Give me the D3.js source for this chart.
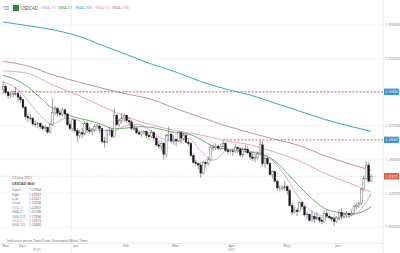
<!DOCTYPE html>
<html lang="en">
<head>
<meta charset="UTF-8" />
<title>USDCAD 1D</title>
<script src="https://d3js.org/d3.v7.min.js"></script>
<style>
  body { margin: 0; background: #fff; font-family: 'Open Sans', sans-serif; }
  svg { display: block; }
</style>
</head>
<body>
<div id="chart"></div>
<script>
// daily candles, 23 Nov 2020 .. 22 Jun 2021 (open, high, low, close)
const candles = [
  [1.3020,1.3085,1.2990,1.3045],[1.3045,1.3060,1.2985,1.3000],[1.3000,1.3010,1.2950,1.2975],[1.2975,1.3000,1.2960,1.2985],
  [1.2985,1.3010,1.2965,1.2990],[1.2990,1.3040,1.2975,1.2990],[1.2990,1.3000,1.2930,1.2965],[1.2965,1.2985,1.2920,1.2945],
  [1.2945,1.2950,1.2880,1.2890],[1.2890,1.2900,1.2800,1.2820],[1.2820,1.2840,1.2780,1.2810],[1.2810,1.2840,1.2790,1.2805],
  [1.2805,1.2815,1.2750,1.2765],[1.2765,1.2790,1.2740,1.2760],[1.2760,1.2780,1.2735,1.2770],[1.2770,1.2775,1.2725,1.2745],
  [1.2745,1.2760,1.2715,1.2730],[1.2730,1.2760,1.2710,1.2740],[1.2740,1.2745,1.2690,1.2705],[1.2705,1.2770,1.2695,1.2760],
  [1.2760,1.2955,1.2750,1.2850],[1.2850,1.2900,1.2830,1.2880],[1.2880,1.2890,1.2820,1.2845],[1.2845,1.2870,1.2820,1.2835],
  [1.2835,1.2885,1.2820,1.2870],[1.2870,1.2880,1.2810,1.2840],[1.2840,1.2845,1.2750,1.2760],[1.2760,1.2790,1.2715,1.2730],
  [1.2730,1.2805,1.2710,1.2795],[1.2795,1.2800,1.2700,1.2715],[1.2715,1.2735,1.2630,1.2680],[1.2680,1.2720,1.2655,1.2700],
  [1.2700,1.2735,1.2660,1.2690],[1.2690,1.2790,1.2680,1.2770],[1.2770,1.2785,1.2700,1.2720],[1.2720,1.2745,1.2690,1.2710],
  [1.2710,1.2735,1.2680,1.2720],[1.2720,1.2765,1.2705,1.2745],[1.2745,1.2765,1.2730,1.2750],[1.2750,1.2760,1.2695,1.2730],
  [1.2730,1.2735,1.2620,1.2635],[1.2635,1.2670,1.2590,1.2630],[1.2630,1.2725,1.2625,1.2715],[1.2715,1.2740,1.2680,1.2720],
  [1.2720,1.2735,1.2660,1.2670],[1.2670,1.2880,1.2660,1.2830],[1.2830,1.2840,1.2750,1.2760],[1.2760,1.2810,1.2740,1.2790],
  [1.2790,1.2850,1.2770,1.2810],[1.2810,1.2840,1.2780,1.2830],[1.2830,1.2835,1.2770,1.2790],[1.2790,1.2815,1.2760,1.2780],
  [1.2780,1.2795,1.2720,1.2730],[1.2730,1.2760,1.2715,1.2730],[1.2730,1.2740,1.2690,1.2700],[1.2700,1.2720,1.2680,1.2690],
  [1.2690,1.2715,1.2670,1.2705],[1.2705,1.2720,1.2685,1.2710],[1.2710,1.2715,1.2660,1.2680],[1.2680,1.2705,1.2650,1.2670],
  [1.2670,1.2720,1.2660,1.2700],[1.2700,1.2710,1.2640,1.2660],[1.2660,1.2675,1.2600,1.2610],[1.2610,1.2640,1.2580,1.2600],
  [1.2600,1.2640,1.2570,1.2620],[1.2620,1.2630,1.2500,1.2540],[1.2540,1.2690,1.2515,1.2680],[1.2680,1.2745,1.2640,1.2690],
  [1.2690,1.2700,1.2620,1.2640],[1.2640,1.2680,1.2610,1.2650],[1.2650,1.2660,1.2600,1.2640],[1.2640,1.2710,1.2630,1.2700],
  [1.2700,1.2710,1.2620,1.2660],[1.2660,1.2700,1.2640,1.2680],[1.2680,1.2690,1.2620,1.2630],[1.2630,1.2650,1.2600,1.2620],
  [1.2620,1.2630,1.2520,1.2530],[1.2530,1.2550,1.2470,1.2480],[1.2480,1.2500,1.2450,1.2470],[1.2470,1.2480,1.2430,1.2460],
  [1.2460,1.2480,1.2365,1.2400],[1.2400,1.2490,1.2390,1.2480],[1.2480,1.2490,1.2440,1.2470],[1.2470,1.2520,1.2455,1.2500],
  [1.2500,1.2610,1.2490,1.2590],[1.2590,1.2620,1.2560,1.2590],[1.2590,1.2620,1.2570,1.2600],[1.2600,1.2610,1.2570,1.2585],
  [1.2585,1.2620,1.2570,1.2600],[1.2600,1.2640,1.2590,1.2620],[1.2620,1.2630,1.2560,1.2570],[1.2570,1.2590,1.2540,1.2560],
  [1.2560,1.2575,1.2550,1.2565],[1.2565,1.2580,1.2530,1.2560],[1.2560,1.2620,1.2550,1.2590],[1.2590,1.2600,1.2550,1.2580],
  [1.2580,1.2590,1.2520,1.2535],[1.2535,1.2590,1.2520,1.2580],[1.2580,1.2610,1.2560,1.2575],[1.2575,1.2600,1.2540,1.2550],
  [1.2550,1.2560,1.2500,1.2520],[1.2520,1.2550,1.2490,1.2510],[1.2510,1.2540,1.2480,1.2515],[1.2515,1.2560,1.2500,1.2545],
  [1.2545,1.2640,1.2530,1.2610],[1.2610,1.2640,1.2450,1.2470],[1.2470,1.2530,1.2440,1.2510],[1.2510,1.2520,1.2460,1.2470],
  [1.2470,1.2480,1.2380,1.2390],[1.2390,1.2420,1.2360,1.2410],[1.2410,1.2420,1.2330,1.2340],[1.2340,1.2350,1.2270,1.2290],
  [1.2290,1.2310,1.2265,1.2290],[1.2290,1.2310,1.2270,1.2290],[1.2290,1.2340,1.2270,1.2300],[1.2300,1.2310,1.2240,1.2270],
  [1.2270,1.2280,1.2150,1.2160],[1.2160,1.2180,1.2090,1.2110],[1.2110,1.2150,1.2100,1.2125],[1.2125,1.2140,1.2080,1.2115],
  [1.2115,1.2190,1.2110,1.2180],[1.2180,1.2190,1.2130,1.2150],[1.2150,1.2160,1.2080,1.2090],[1.2090,1.2110,1.2060,1.2095],
  [1.2095,1.2100,1.2040,1.2050],[1.2050,1.2120,1.2040,1.2080],[1.2080,1.2100,1.2030,1.2060],[1.2060,1.2110,1.2050,1.2070],
  [1.2070,1.2080,1.2030,1.2050],[1.2050,1.2070,1.2020,1.2040],[1.2040,1.2120,1.2030,1.2100],[1.2100,1.2130,1.2070,1.2080],
  [1.2080,1.2100,1.2060,1.2070],[1.2070,1.2080,1.2040,1.2060],[1.2060,1.2090,1.2007,1.2040],[1.2040,1.2080,1.2030,1.2070],
  [1.2070,1.2130,1.2050,1.2110],[1.2110,1.2140,1.2060,1.2080],[1.2080,1.2110,1.2070,1.2090],[1.2090,1.2120,1.2070,1.2100],
  [1.2100,1.2110,1.2070,1.2090],[1.2090,1.2130,1.2080,1.2100],[1.2100,1.2165,1.2090,1.2150],[1.2150,1.2170,1.2130,1.2160],
  [1.2160,1.2190,1.2140,1.2175],[1.2175,1.2290,1.2160,1.2280],[1.2280,1.2380,1.2270,1.2360],[1.2360,1.2487,1.2350,1.2460],
  [1.2460,1.2480,1.2330,1.2340],[1.2336,1.2394,1.2332,1.2377]
];
const holidays = ["2020-12-25", "2021-01-01"];

// moving averages (bar index, value)
const sma10 = [[0,1.3075],[5,1.3034],[10,1.2937],[15,1.2828],[20,1.2763],[25,1.2806],[30,1.2795],[35,1.2727],
  [40,1.2717],[45,1.2715],[50,1.2755],[55,1.2761],[60,1.2710],[65,1.2650],[70,1.2633],[75,1.2659],[80,1.2563],
  [85,1.2497],[90,1.2561],[95,1.2583],[100,1.2562],[105,1.2541],[110,1.2477],[115,1.2356],[120,1.2213],[125,1.2116],
  [130,1.2079],[135,1.2064],[140,1.2079],[145,1.2134],[149,1.2249]];
const sma21 = [[0,1.3125],[5,1.3095],[10,1.3040],[15,1.2960],[20,1.2880],[25,1.2840],[30,1.2810],[35,1.2790],
  [40,1.2760],[45,1.2730],[50,1.2735],[55,1.2745],[60,1.2740],[65,1.2720],[70,1.2700],[75,1.2690],[80,1.2650],
  [85,1.2600],[90,1.2580],[95,1.2565],[100,1.2555],[105,1.2540],[110,1.2490],[115,1.2400],[120,1.2300],[125,1.2210],
  [130,1.2140],[135,1.2110],[140,1.2095],[145,1.2110],[149,1.2150]];
const sma55 = [[0,1.3160],[10,1.3140],[20,1.3055],[30,1.2981],[40,1.2897],[50,1.2817],[60,1.2759],[70,1.2716],
  [80,1.2683],[90,1.2641],[100,1.2610],[110,1.2555],[120,1.2490],[130,1.2400],[140,1.2327],[149,1.2260]];
const sma100 = [[0,1.3230],[10,1.3195],[20,1.3130],[30,1.3080],[40,1.3031],[50,1.2988],[60,1.2948],[70,1.2878],
  [80,1.2815],[90,1.2753],[100,1.2700],[110,1.2651],[120,1.2604],[130,1.2531],[140,1.2470],[149,1.2420]];
const sma200 = [[0,1.3522],[10,1.3495],[20,1.3465],[30,1.3420],[40,1.3350],[50,1.3280],[60,1.3210],[70,1.3150],
  [80,1.3080],[90,1.3025],[100,1.2980],[110,1.2920],[120,1.2860],[130,1.2800],[140,1.2750],[149,1.2710]];

const yTicks = [1.20, 1.225, 1.25, 1.275, 1.30, 1.325, 1.35];
const levels = [
  { value: 1.3004, from: 0, label: "1.3004" },
  { value: 1.2647, from: 89, label: "1.2647" }
];
const lastPrice = 1.2377;

const legendRows = [
  ["Open", "1.23364"], ["High", "1.23937"], ["Low", "1.23321"], ["Close", "1.23768"],
  ["SMA 10", "1.22807"], ["SMA 21", "1.21036"], ["SMA 200", "1.27856"], ["SMA 55", "1.22973"], ["SMA 100", "1.23880"]
];
const smaNames = ["SMA 10", "SMA 21", "SMA 200", "SMA 55", "SMA 100"];
const colors = {
  "SMA 10": "#c792d8", "SMA 21": "#3e9a48", "SMA 200": "#35a7c4",
  "SMA 55": "#e08cb4", "SMA 100": "#b8709a"
};

const width = 400, height = 253;
const plotRight = 383, axisY = 243.5;

// trading calendar: weekdays minus holidays
const parse = d3.utcParse("%Y-%m-%d"), fmt = d3.utcFormat("%Y-%m-%d");
const dates = d3.utcDays(parse("2020-11-23"), parse("2021-06-23"))
  .filter(d => d.getUTCDay() % 6 !== 0 && !holidays.includes(fmt(d)));

const x = d3.scaleLinear().domain([0, candles.length - 1]).range([3.2, 371.2]);
const y = d3.scaleLinear().domain([1.20, 1.35]).range([227, 25]);

const svg = d3.select("#chart").append("svg")
  .attr("width", width).attr("height", height)
  .style("font-family", "'Open Sans', sans-serif");

// grid
svg.append("g").selectAll("line").data(yTicks).join("line")
  .attr("x1", 0).attr("x2", plotRight)
  .attr("y1", d => y(d)).attr("y2", d => y(d))
  .attr("stroke", "#f0f0f0").attr("stroke-width", 0.6);

const yearStart = dates.findIndex(d => d.getUTCFullYear() === 2021);
const sepX = (x(yearStart - 1) + x(yearStart)) / 2;
svg.append("line").attr("x1", sepX).attr("x2", sepX).attr("y1", 0).attr("y2", height)
  .attr("stroke", "#e6e6e6").attr("stroke-width", 0.7);

svg.append("line").attr("x1", plotRight).attr("x2", plotRight).attr("y1", 0).attr("y2", height)
  .attr("stroke", "#e3e3e3").attr("stroke-width", 0.7);
svg.append("line").attr("x1", 0).attr("x2", plotRight).attr("y1", axisY).attr("y2", axisY)
  .attr("stroke", "#e3e3e3").attr("stroke-width", 0.7);

// horizontal levels
for (const lv of levels) {
  svg.append("line")
    .attr("x1", x(lv.from)).attr("x2", plotRight)
    .attr("y1", y(lv.value)).attr("y2", y(lv.value))
    .attr("stroke", "#c9453f").attr("stroke-width", 0.8)
    .attr("stroke-dasharray", "2,1.6");
}
svg.append("line")
  .attr("x1", 0).attr("x2", plotRight)
  .attr("y1", y(lastPrice)).attr("y2", y(lastPrice))
  .attr("stroke", "#bbb").attr("stroke-width", 0.5)
  .attr("stroke-dasharray", "1.5,1.5");

// moving averages
const line = d3.line().x(d => x(d[0])).y(d => y(d[1])).curve(d3.curveMonotoneX);
const smaData = { "SMA 10": sma10, "SMA 21": sma21, "SMA 200": sma200, "SMA 55": sma55, "SMA 100": sma100 };
for (const name of ["SMA 200", "SMA 100", "SMA 55", "SMA 21", "SMA 10"]) {
  svg.append("path").datum(smaData[name])
    .attr("fill", "none").attr("stroke", colors[name])
    .attr("stroke-width", name === "SMA 200" ? 1 : 0.8)
    .attr("d", line);
}

// candles
const cg = svg.append("g").selectAll("g").data(candles).join("g");
cg.append("line")
  .attr("x1", (d, i) => x(i)).attr("x2", (d, i) => x(i))
  .attr("y1", d => y(d[1])).attr("y2", d => y(d[2]))
  .attr("stroke", "#444").attr("stroke-width", 0.55);
cg.append("rect")
  .attr("x", (d, i) => x(i) - 0.9).attr("width", 1.8)
  .attr("y", d => y(Math.max(d[0], d[3])))
  .attr("height", d => Math.max(0.4, Math.abs(y(d[0]) - y(d[3]))))
  .attr("fill", d => d[3] >= d[0] ? "#fff" : "#1a1a1a")
  .attr("stroke", d => d[3] >= d[0] ? "#555" : "#1a1a1a")
  .attr("stroke-width", 0.4);

// right axis labels
svg.append("g").selectAll("text")
  .data(yTicks.filter(t => Math.abs(y(t) - y(levels[0].value)) > 5))
  .join("text")
  .attr("x", 385.5).attr("y", d => y(d)).attr("dy", "0.35em")
  .attr("font-size", 3.9).attr("fill", "#777")
  .text(d => d3.format(".5f")(d));

function priceTag(v, label, bg) {
  const g = svg.append("g").attr("transform", `translate(384,${y(v)})`);
  g.append("rect").attr("x", 0).attr("y", -3.2).attr("width", 15).attr("height", 6.4).attr("fill", bg);
  g.append("text").attr("x", 7.5).attr("dy", "0.35em").attr("text-anchor", "middle")
    .attr("font-size", 4).attr("fill", "#fff").text(label);
}
for (const lv of levels) priceTag(lv.value, lv.label, "#3f95d3");
priceTag(lastPrice, lastPrice.toFixed(4), "#e0624e");

// time axis
const monthStarts = dates.map((d, i) => i).filter(i => i === 0 || dates[i].getUTCMonth() !== dates[i - 1].getUTCMonth());
svg.append("g").selectAll("text").data(monthStarts).join("text")
  .attr("x", i => i === 0 ? 2.5 : x(i) + 1)
  .attr("y", 247.2)
  .attr("font-size", 3.6).attr("fill", "#666")
  .text(i => d3.utcFormat("%b")(dates[i]));
const years = [[0, yearStart - 1], [yearStart, dates.length - 1]];
svg.append("g").selectAll("text").data(years).join("text")
  .attr("x", d => (x(d[0]) + Math.min(x(d[1]), plotRight)) / 2 + (d[0] === 0 ? 0 : 10))
  .attr("y", 251.3)
  .attr("text-anchor", "middle")
  .attr("font-size", 3.4).attr("fill", "#888")
  .text(d => dates[d[0]].getUTCFullYear());

svg.append("text").attr("x", 7).attr("y", 242).attr("font-size", 3.4).attr("fill", "#666")
  .text("Indicative prices   Time Zone: Greenwich Mean Time");

// header
const head = svg.append("g").attr("transform", "translate(0,8)");
head.append("text").attr("x", 3).attr("dy", "0.35em").attr("font-size", 4.4).attr("fill", "#555").text("1D");
head.append("rect").attr("x", 13).attr("y", -3).attr("width", 6).attr("height", 6).attr("fill", "#2f8a3c");
head.append("text").attr("x", 20.5).attr("dy", "0.35em").attr("font-size", 4.4).attr("fill", "#444").text("USDCAD");
const hx = [41, 58, 75, 95, 112];
smaNames.forEach((n, k) => {
  head.append("text").attr("x", hx[k]).attr("dy", "0.35em").attr("font-size", 4.2)
    .attr("fill", colors[n]).text(n);
});

// data window
const leg = svg.append("g").attr("transform", "translate(12,178)");
leg.append("text").attr("dy", "0.35em").attr("font-size", 3.3).attr("fill", "#666").text("22 June 2021");
leg.append("text").attr("y", 5.6).attr("dy", "0.35em").attr("font-size", 3.4).attr("font-weight", "bold")
  .attr("fill", "#444").text("USDCAD (Bid)");
legendRows.forEach((r, k) => {
  const ry = 12 + k * 4.4;
  leg.append("text").attr("y", ry).attr("dy", "0.35em").attr("font-size", 3.3)
    .attr("fill", colors[r[0]] || "#666").text(r[0]);
  leg.append("text").attr("x", 17).attr("y", ry).attr("dy", "0.35em").attr("font-size", 3.3)
    .attr("fill", "#555").text(r[1]);
});
</script>
</body>
</html>
